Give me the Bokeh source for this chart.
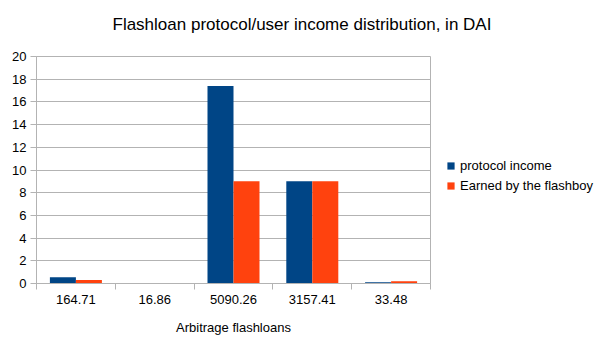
from bokeh.plotting import figure
from bokeh.models import ColumnDataSource, FixedTicker, Legend, LegendItem, Range1d, Title
from bokeh.embed import file_html
from bokeh.resources import INLINE

categories = ["164.71", "16.86", "5090.26", "3157.41", "33.48"]
protocol_income = [0.55, 0.0, 17.4, 9.0, 0.1]
earned_flashboy = [0.3, 0.0, 9.0, 9.0, 0.2]
y_ticks = list(range(0, 21, 2))

FONT = "Liberation Sans"
GRID = "#b3b3b3"
BLUE = "#004586"
ORANGE = "#ff420e"

idx = list(range(len(categories)))
src = ColumnDataSource(dict(
    xb=[i + 0.5 - 0.165 for i in idx],
    xo=[i + 0.5 + 0.165 for i in idx],
    p=protocol_income,
    e=earned_flashboy,
))

p = figure(output_backend="svg", toolbar_location=None,
           frame_width=394, frame_height=227,
           x_range=Range1d(0, len(categories)), y_range=Range1d(0, 20),
           min_border_left=36, min_border_right=0, min_border_top=56, min_border_bottom=69)

p.title.text = "Flashloan protocol/user income distribution, in DAI"
p.title.align = "left"
p.title.vertical_align = "top"
p.title.offset = 76
p.title.standoff = 0
p.title.text_font = FONT
p.title.text_font_size = "17px"
p.title.text_font_style = "normal"
p.title.text_color = "#000000"

# spacer between title and frame
p.add_layout(Title(text=" ", text_font_size="1px", standoff=18), "above")

rb = p.vbar(x="xb", top="p", width=0.33, source=src, color=BLUE, line_color=None)
ro = p.vbar(x="xo", top="e", width=0.33, source=src, color=ORANGE, line_color=None)

p.outline_line_color = GRID
p.xgrid.visible = False
p.ygrid.grid_line_color = GRID
p.ygrid.ticker = FixedTicker(ticks=y_ticks)

xa = p.xaxis[0]
xa.ticker = FixedTicker(ticks=[i + 0.5 for i in idx], minor_ticks=[float(i) for i in range(len(categories) + 1)])
xa.major_label_overrides = {i + 0.5: c for i, c in enumerate(categories)}
xa.major_tick_line_color = None
xa.minor_tick_line_color = GRID
xa.minor_tick_in = 0
xa.minor_tick_out = 6
xa.axis_line_color = GRID
xa.major_label_text_font = FONT
xa.major_label_text_font_size = "13px"
xa.major_label_text_color = "#000000"
xa.major_label_standoff = 5
xa.axis_label = "Arbitrage flashloans"
xa.axis_label_text_font = FONT
xa.axis_label_text_font_size = "13px"
xa.axis_label_text_font_style = "normal"
xa.axis_label_text_color = "#000000"
xa.axis_label_standoff = 13

ya = p.yaxis[0]
ya.ticker = FixedTicker(ticks=y_ticks)
ya.major_tick_line_color = GRID
ya.major_tick_in = 0
ya.major_tick_out = 6
ya.minor_tick_line_color = None
ya.axis_line_color = GRID
ya.major_label_text_font = FONT
ya.major_label_text_font_size = "13px"
ya.major_label_text_color = "#000000"
ya.major_label_standoff = 4

legend = Legend(items=[LegendItem(label="protocol income", renderers=[rb]),
                       LegendItem(label="Earned by the flashboy", renderers=[ro])],
                location=(16, 89))
legend.margin = 0
legend.padding = 0
legend.border_line_color = None
legend.background_fill_alpha = 0
legend.label_text_font = FONT
legend.label_text_font_size = "13px"
legend.label_text_color = "#000000"
legend.glyph_width = 9
legend.glyph_height = 9
legend.label_standoff = 5
legend.spacing = 3
legend.label_height = 17
p.add_layout(legend, "right")

open("out.html", "w").write(file_html(p, INLINE))
